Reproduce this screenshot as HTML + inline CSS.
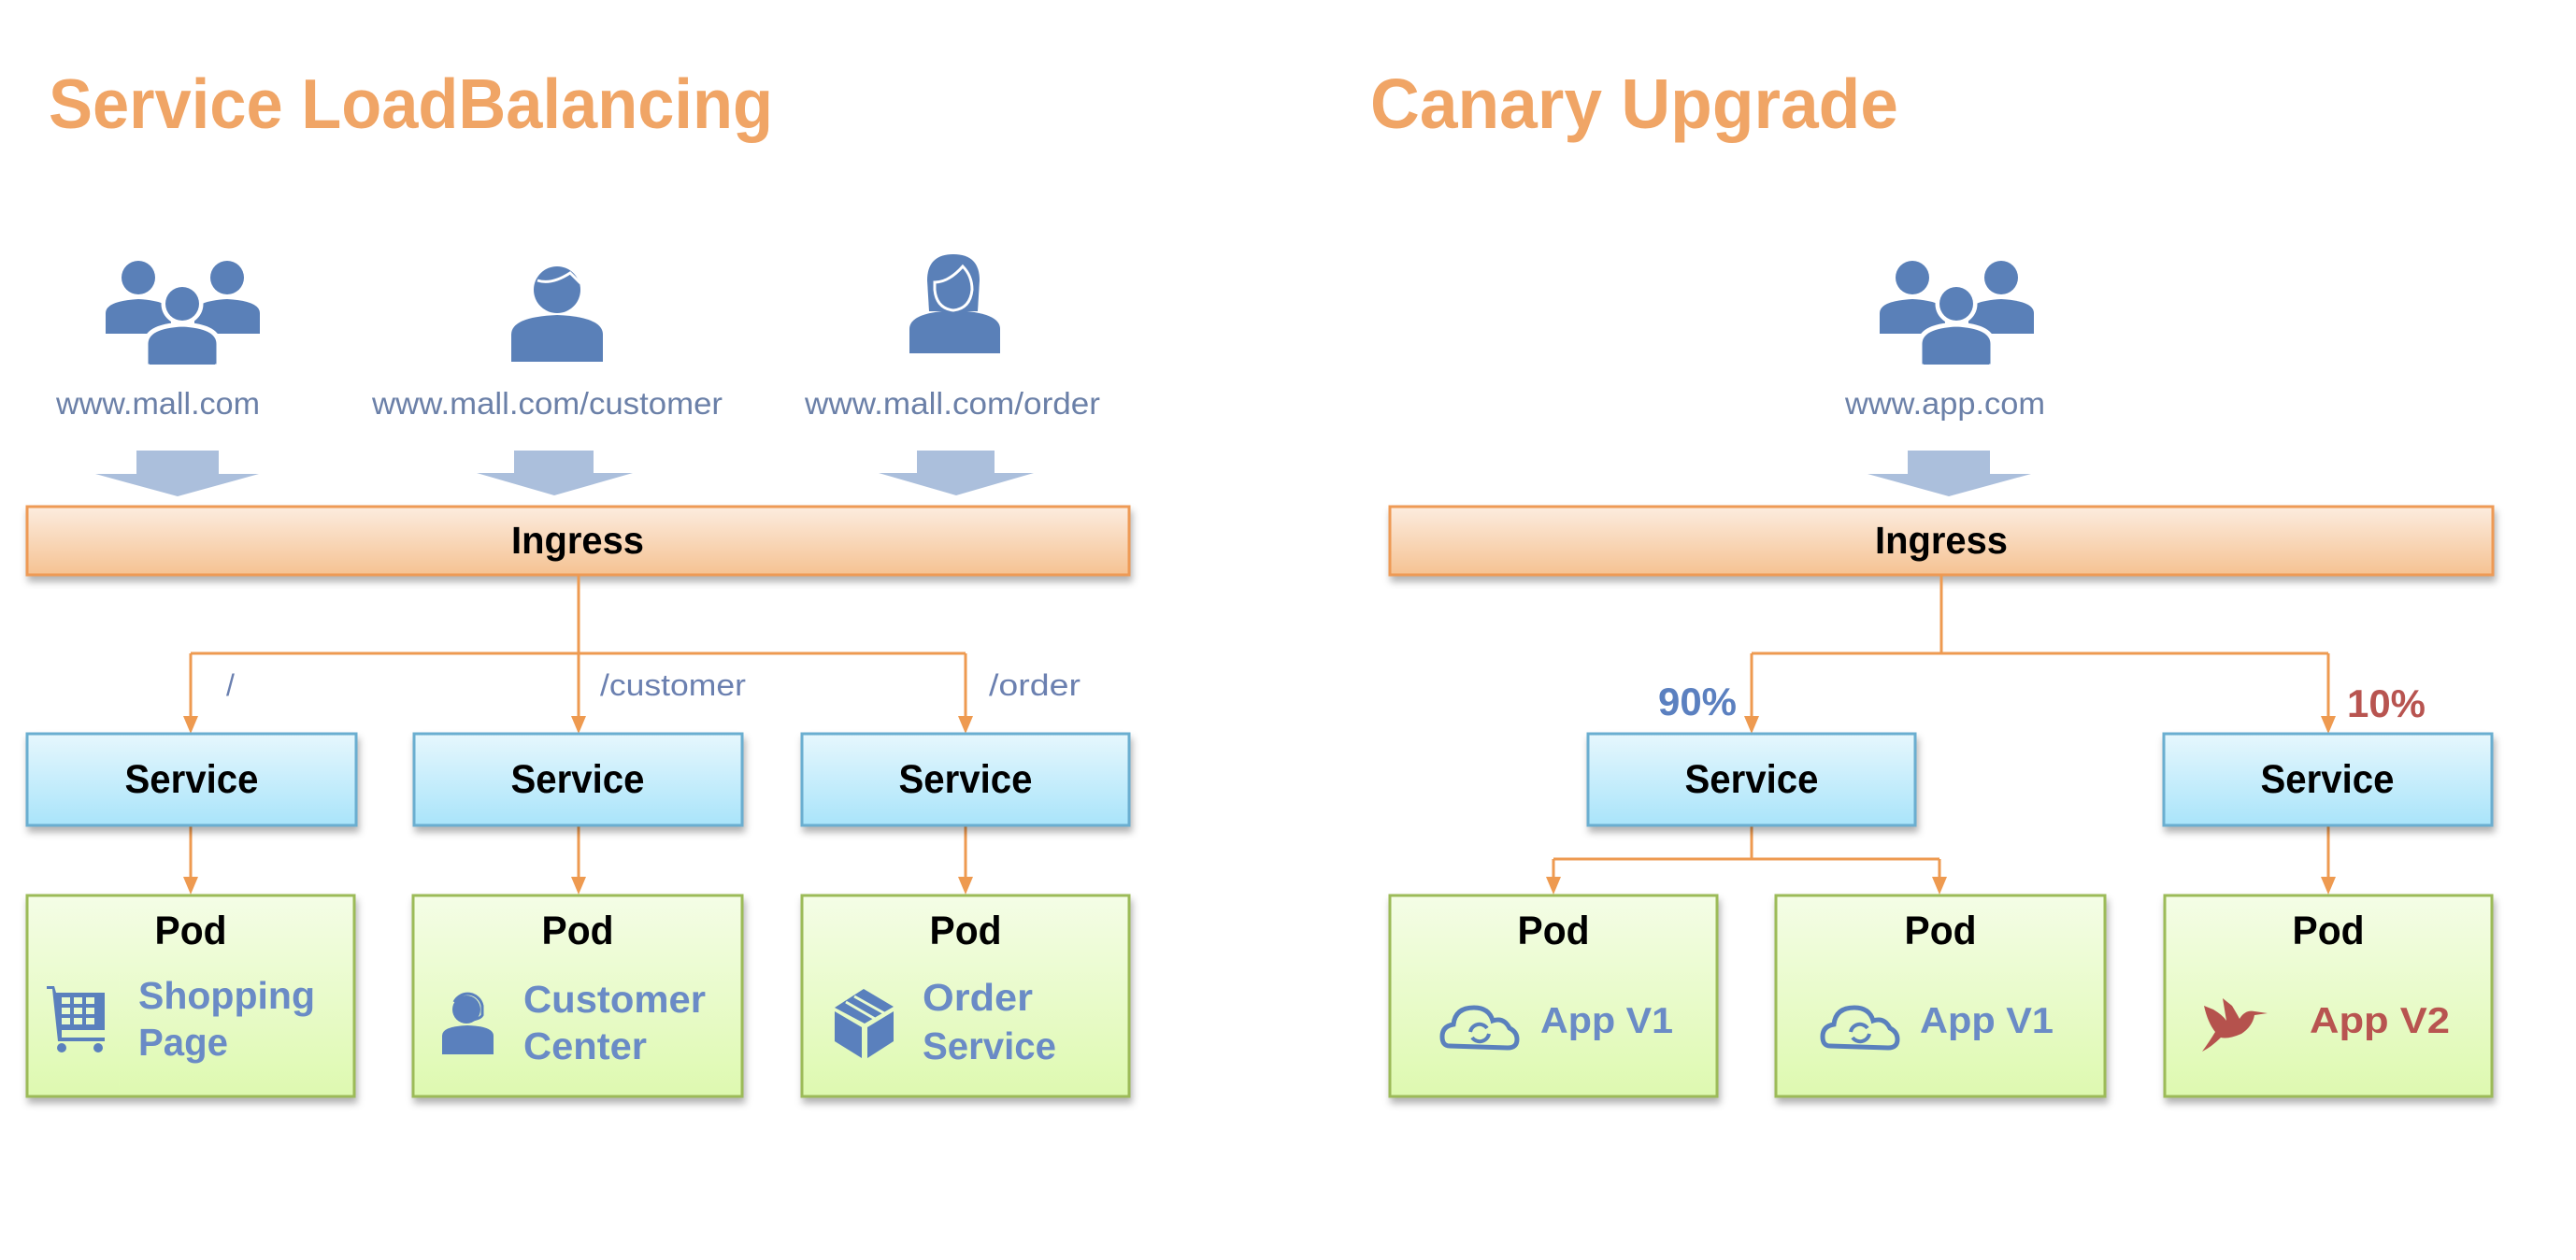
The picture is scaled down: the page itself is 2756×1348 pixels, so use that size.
<!DOCTYPE html>
<html><head><meta charset="utf-8"><style>
html,body{margin:0;padding:0;background:#fff;}
svg{display:block;}
text{font-family:"Liberation Sans",sans-serif;font-weight:bold;}
</style></head><body>
<svg width="2756" height="1348" viewBox="0 0 2756 1348" xmlns="http://www.w3.org/2000/svg">
<defs>
<linearGradient id="gi" x1="0" y1="0" x2="0" y2="1"><stop offset="0" stop-color="#fcecdf"/><stop offset="1" stop-color="#f5c292"/></linearGradient>
<linearGradient id="gs" x1="0" y1="0" x2="0" y2="1"><stop offset="0" stop-color="#e6f7fd"/><stop offset="1" stop-color="#a9e4fa"/></linearGradient>
<linearGradient id="gp" x1="0" y1="0" x2="0" y2="1"><stop offset="0" stop-color="#f4fde6"/><stop offset="1" stop-color="#def9b0"/></linearGradient>
<filter id="sh" x="-5%" y="-10%" width="110%" height="130%"><feDropShadow dx="2" dy="6" stdDeviation="4" flood-color="#000" flood-opacity="0.3"/></filter>
<path id="ah" d="M-8,-19 L8,-19 L0,0 Z" fill="#ee9a50"/>
<g id="group">
  <circle cx="148" cy="297" r="18"/>
  <path d="M113,357 L113,335 Q113,322 148,320 Q183,322 183,335 L183,357 Z"/>
  <circle cx="243" cy="297" r="18"/>
  <path d="M208,357 L208,335 Q208,322 243,320 Q278,322 278,335 L278,357 Z"/>
  <path d="M156,392 L156,368 Q156,349 195,347 Q234,349 234,368 L234,392 Z" stroke="#fff" stroke-width="5"/>
  <circle cx="195" cy="325" r="20" stroke="#fff" stroke-width="5"/>
  <path d="M160,390 L160,368 Q160,352 195,350 Q230,352 230,368 L230,390 Z"/>
  <circle cx="195" cy="325" r="18"/>
</g>
<g id="cloud"><path d="M8,45 Q0,45 0,35 Q0,24 12,22 Q14,4 34,4 Q50,4 54,18 Q66,14 72,26 Q80,30 80,38 Q80,47 70,47 Z" fill="none" stroke="#5a80bd" stroke-width="5"/><path d="M30,30 A10,10 0 0 1 48,26 M50,32 A10,10 0 0 1 32,36" fill="none" stroke="#5a80bd" stroke-width="4"/></g>
</defs>

<text x="52" y="137" font-size="75" fill="#f0a566" textLength="775" lengthAdjust="spacingAndGlyphs">Service LoadBalancing</text>
<text x="1466" y="137" font-size="75" fill="#f0a566" textLength="565" lengthAdjust="spacingAndGlyphs">Canary Upgrade</text>

<g fill="#5a80b8">
  <use href="#group"/>
  <use href="#group" transform="translate(1898,0)"/>
  <circle cx="596" cy="310" r="25"/>
  <path d="M547,387 L547,358 Q547,339 596,337 Q645,339 645,358 L645,387 Z"/>
  <path d="M575,300 Q590,305 610,292 Q616,298 621,303" fill="none" stroke="#fff" stroke-width="3"/>
  <path d="M994,333 L992,300 Q992,272 1020,272 Q1048,272 1048,300 L1046,333 Z"/>
  <path d="M973,378 L973,352 Q973,334 1021,332 Q1070,334 1070,352 L1070,378 Z"/>
  <path d="M1000,302 Q1015,302 1030,285 Q1040,295 1040,310 Q1038,330 1020,332 Q1002,330 1000,310 Z" fill="#5a80b8" stroke="#fff" stroke-width="3"/>
</g>

<g fill="#6b80a8">
<text x="60" y="443" font-size="33" textLength="218" lengthAdjust="spacingAndGlyphs" style="font-weight:normal">www.mall.com</text>
<text x="398" y="443" font-size="33" textLength="375" lengthAdjust="spacingAndGlyphs" style="font-weight:normal">www.mall.com/customer</text>
<text x="861" y="443" font-size="33" textLength="316" lengthAdjust="spacingAndGlyphs" style="font-weight:normal">www.mall.com/order</text>
<text x="1974" y="443" font-size="33" textLength="214" lengthAdjust="spacingAndGlyphs" style="font-weight:normal">www.app.com</text>
</g>

<g fill="#abbfdc">
<path d="M146,482 L234,482 L234,507 L277,507 L190,531 L102,507 L146,507 Z"/>
<path d="M550,482 L635,482 L635,506 L677,506 L593,530 L510,506 L550,506 Z"/>
<path d="M981,482 L1064,482 L1064,506 L1106,506 L1023,530 L940,506 L981,506 Z"/>
<path d="M2041,482 L2129,482 L2129,507 L2173,507 L2085,531 L1998,507 L2041,507 Z"/>
</g>

<rect x="29" y="542" width="1179" height="73" fill="url(#gi)" stroke="#ee9a55" stroke-width="3" filter="url(#sh)"/>
<rect x="1487" y="542" width="1180" height="73" fill="url(#gi)" stroke="#ee9a55" stroke-width="3" filter="url(#sh)"/>
<text x="618" y="592" font-size="41" text-anchor="middle" textLength="142" lengthAdjust="spacingAndGlyphs">Ingress</text>
<text x="2077" y="592" font-size="41" text-anchor="middle" textLength="142" lengthAdjust="spacingAndGlyphs">Ingress</text>

<g stroke="#ee9a50" stroke-width="3" fill="none">
<path d="M619,615 L619,699"/>
<path d="M204,699 L1033,699"/>
<path d="M204,699 L204,768"/>
<path d="M619,699 L619,768"/>
<path d="M1033,699 L1033,768"/>
<path d="M204,883 L204,940"/>
<path d="M619,883 L619,940"/>
<path d="M1033,883 L1033,940"/>
<path d="M2077,615 L2077,699"/>
<path d="M1874,699 L2491,699"/>
<path d="M1874,699 L1874,768"/>
<path d="M2491,699 L2491,768"/>
<path d="M1874,883 L1874,919 M1662,919 L2075,919"/>
<path d="M1662,919 L1662,940"/>
<path d="M2075,919 L2075,940"/>
<path d="M2491,883 L2491,940"/>
</g>
<use href="#ah" x="204" y="785"/><use href="#ah" x="619" y="785"/><use href="#ah" x="1033" y="785"/>
<use href="#ah" x="204" y="957"/><use href="#ah" x="619" y="957"/><use href="#ah" x="1033" y="957"/>
<use href="#ah" x="1874" y="785"/><use href="#ah" x="2491" y="785"/>
<use href="#ah" x="1662" y="957"/><use href="#ah" x="2075" y="957"/><use href="#ah" x="2491" y="957"/>

<g fill="#6b80b0">
<text x="242" y="744" font-size="32" style="font-weight:normal">/</text>
<text x="642" y="744" font-size="32" textLength="156" lengthAdjust="spacingAndGlyphs" style="font-weight:normal">/customer</text>
<text x="1058" y="744" font-size="32" textLength="98" lengthAdjust="spacingAndGlyphs" style="font-weight:normal">/order</text>
</g>
<text x="1774" y="765" font-size="42" fill="#5b80c0" textLength="84" lengthAdjust="spacingAndGlyphs">90%</text>
<text x="2511" y="767" font-size="42" fill="#b85450" textLength="84" lengthAdjust="spacingAndGlyphs">10%</text>

<g fill="url(#gs)" stroke="#6aaed0" stroke-width="3" filter="url(#sh)">
<rect x="29" y="785" width="352" height="98"/>
<rect x="443" y="785" width="351" height="98"/>
<rect x="858" y="785" width="350" height="98"/>
<rect x="1699" y="785" width="350" height="98"/>
<rect x="2315" y="785" width="351" height="98"/>
</g>
<g font-size="43" text-anchor="middle">
<text x="205" y="848" textLength="143" lengthAdjust="spacingAndGlyphs">Service</text>
<text x="618" y="848" textLength="143" lengthAdjust="spacingAndGlyphs">Service</text>
<text x="1033" y="848" textLength="143" lengthAdjust="spacingAndGlyphs">Service</text>
<text x="1874" y="848" textLength="143" lengthAdjust="spacingAndGlyphs">Service</text>
<text x="2490" y="848" textLength="143" lengthAdjust="spacingAndGlyphs">Service</text>
</g>

<g fill="url(#gp)" stroke="#9cbb59" stroke-width="3" filter="url(#sh)">
<rect x="29" y="958" width="350" height="215"/>
<rect x="442" y="958" width="352" height="215"/>
<rect x="858" y="958" width="350" height="215"/>
<rect x="1487" y="958" width="350" height="215"/>
<rect x="1900" y="958" width="352" height="215"/>
<rect x="2316" y="958" width="350" height="215"/>
</g>
<g font-size="43" text-anchor="middle">
<text x="204" y="1010" textLength="77" lengthAdjust="spacingAndGlyphs">Pod</text>
<text x="618" y="1010" textLength="77" lengthAdjust="spacingAndGlyphs">Pod</text>
<text x="1033" y="1010" textLength="77" lengthAdjust="spacingAndGlyphs">Pod</text>
<text x="1662" y="1010" textLength="77" lengthAdjust="spacingAndGlyphs">Pod</text>
<text x="2076" y="1010" textLength="77" lengthAdjust="spacingAndGlyphs">Pod</text>
<text x="2491" y="1010" textLength="77" lengthAdjust="spacingAndGlyphs">Pod</text>
</g>
<g font-size="41" fill="#6a8bc6">
<text x="148" y="1079" textLength="189" lengthAdjust="spacingAndGlyphs">Shopping</text>
<text x="148" y="1129" textLength="96" lengthAdjust="spacingAndGlyphs">Page</text>
<text x="560" y="1083" textLength="195" lengthAdjust="spacingAndGlyphs">Customer</text>
<text x="560" y="1133" textLength="132" lengthAdjust="spacingAndGlyphs">Center</text>
<text x="987" y="1081" textLength="118" lengthAdjust="spacingAndGlyphs">Order</text>
<text x="987" y="1133" textLength="143" lengthAdjust="spacingAndGlyphs">Service</text>
<text x="1648" y="1105" font-size="39" textLength="142" lengthAdjust="spacingAndGlyphs">App V1</text>
<text x="2054" y="1105" font-size="39" textLength="143" lengthAdjust="spacingAndGlyphs">App V1</text>
</g>
<text x="2471" y="1105" font-size="39" fill="#b85450" textLength="150" lengthAdjust="spacingAndGlyphs">App V2</text>

<g fill="#5a80bd">
  <path d="M50,1055 L58,1055 L60,1062 L112,1062 L112,1102 L66,1102 L66,1110 L112,1110 L112,1114 L62,1114 L56,1058 L50,1058 Z"/>
  <g fill="#e9fbcf"><rect x="66" y="1067" width="9" height="7"/><rect x="79" y="1067" width="9" height="7"/><rect x="92" y="1067" width="9" height="7"/><rect x="66" y="1078" width="9" height="7"/><rect x="79" y="1078" width="9" height="7"/><rect x="92" y="1078" width="9" height="7"/><rect x="66" y="1089" width="9" height="7"/><rect x="79" y="1089" width="9" height="7"/><rect x="92" y="1089" width="9" height="7"/></g>
  <circle cx="66" cy="1121" r="5"/><circle cx="105" cy="1121" r="5"/>
  <circle cx="499" cy="1080" r="15"/>
  <path d="M486,1072 A16,16 0 0 1 516,1076 L516,1086 Q514,1090 505,1091" fill="none" stroke="#5a80bd" stroke-width="3"/>
  <path d="M473,1128 L473,1108 Q473,1098 500,1097 Q528,1098 528,1108 L528,1128 Z"/>
  <path d="M893,1078 L924,1058 L956,1077 L925,1095 Z"/>
  <path d="M893,1082 L922,1099 L922,1132 L893,1114 Z"/>
  <path d="M928,1099 L956,1082 L956,1114 L928,1132 Z"/>
  <path d="M905,1072 L936,1090 M914,1066 L946,1084" stroke="#e9fbcf" stroke-width="3"/>
</g>
<use href="#cloud" transform="translate(1543,1074)"/>
<use href="#cloud" transform="translate(1950,1074)"/>
<path d="M2358,1076 L2368,1080 Q2378,1086 2382,1092 L2378,1068 L2388,1076 Q2394,1086 2396,1090 Q2402,1080 2412,1082 L2426,1084 L2412,1086 Q2410,1098 2398,1106 Q2384,1112 2376,1110 Q2366,1120 2356,1125 Q2364,1114 2370,1104 Q2362,1094 2358,1076 Z" fill="#b5524d"/>
</svg>
</body></html>
